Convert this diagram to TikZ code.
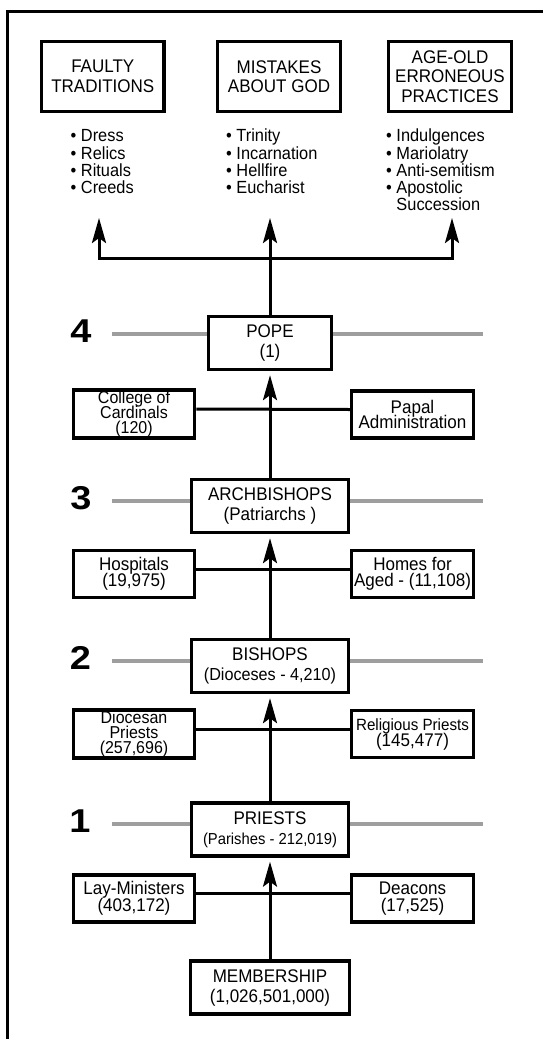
\documentclass[tikz,border=0pt]{standalone}
\usepackage{fontspec}
\setmainfont{Liberation Sans}[FakeStretch=0.93]
\newfontfamily\numfont{Liberation Sans}[FakeStretch=1.15]
\usetikzlibrary{arrows.meta}
\definecolor{levelgray}{RGB}{158,158,158}
\newcommand{\narrow}[2]{{\fontsize{#1}{15}\selectfont #2}}
\tikzset{
  box/.style={draw, line width=3.3pt, fill=white, align=center, inner sep=1pt,
    font={\fontsize{18.3}{20}\selectfont\lineskiplimit=-50pt}},
  topbox/.style={box, minimum width=122.5pt, minimum height=69.5pt,
    font={\fontsize{18.3}{19.5}\selectfont\lineskiplimit=-50pt}},
  mainbox/.style={box, minimum height=53pt},
  sidebox/.style={box, minimum width=121.5pt, minimum height=47pt,
    font={\fontsize{18.3}{16}\selectfont\lineskiplimit=-50pt}},
  tight/.style={font={\fontsize{18.3}{#1}\selectfont\lineskiplimit=-50pt}},
  tightthree/.style={font={\fontsize{17.2}{15}\selectfont\lineskiplimit=-50pt}},
  conn/.style={line width=3pt},
  tipup/.tip={Stealth[length=25pt, width=14pt, inset=5pt]},
  up/.style={conn, -tipup, shorten >=4pt},
  levelline/.style={line width=4pt, draw=levelgray},
  num/.style={font=\numfont\fontsize{33}{33}\bfseries\selectfont, inner sep=0pt},
  bul/.style={font=\fontsize{17.6}{17.3}\selectfont, anchor=base west, inner sep=0pt},
}
\begin{document}
\begin{tikzpicture}[x=1pt,y=1pt]
\useasboundingbox (0,0) rectangle (542,-1039);
% frame
\draw[line width=2.8pt] (7.6,-1045) -- (7.6,-11.7) -- (550,-11.7);

% level lines
\foreach \yy in {334,501,661,824} {\draw[levelline] (112,-\yy) -- (483,-\yy);}
\node[num] (n4) at (81,-331) {4};
\node[num] (n3) at (81,-498.5) {3};
\node[num] (n2) at (80.5,-658) {2};
\node[num] (n1) at (80,-821) {1};

% top boxes
\node[topbox] (faulty) at (102.8,-76.5) {FAULTY\\TRADITIONS};
\node[topbox] (mistakes) at (279,-76.5) {MISTAKES\\ABOUT GOD};
\node[topbox] (ageold) at (450,-76.5) {AGE-OLD\\ERRONEOUS\\PRACTICES};

% bullet lists
\node[bul] (f1) at (70.5,-141.7) {\textbullet{} Dress};
\node[bul] (f2) at (70.5,-159) {\textbullet{} Relics};
\node[bul] (f3) at (70.5,-176.3) {\textbullet{} Rituals};
\node[bul] (f4) at (70.5,-193.6) {\textbullet{} Creeds};
\node[bul] (m1) at (226,-141.7) {\textbullet{} Trinity};
\node[bul] (m2) at (226,-159) {\textbullet{} Incarnation};
\node[bul] (m3) at (226,-176.3) {\textbullet{} Hellfire};
\node[bul] (m4) at (226,-193.6) {\textbullet{} Eucharist};
\node[bul] (a1) at (386,-141.7) {\textbullet{} Indulgences};
\node[bul] (a2) at (386,-159) {\textbullet{} Mariolatry};
\node[bul] (a3) at (386,-176.3) {\textbullet{} Anti-semitism};
\node[bul] (a4) at (386,-193.6) {\textbullet{} Apostolic};
\node[bul] (a5) at (386,-210.9) {\phantom{\textbullet{} }Succession};

% hierarchy
\node[mainbox, minimum width=122.5pt] (pope) at (270,-343) {POPE\\(1)};
\node[sidebox, tightthree] (college) at (134,-414) {College of\\Cardinals\\(120)};
\node[sidebox, tight=15] (papal) at (412.5,-414.5) {Papal\\Administration};
\node[mainbox, minimum width=157.5pt] (arch) at (270,-506) {ARCHBISHOPS\\(Patriarchs )};
\node[sidebox] (hosp) at (134,-574) {Hospitals\\(19,975)};
\node[sidebox] (homes) at (412.5,-574) {Homes for\\Aged - (11,108)};
\node[mainbox, minimum width=157.5pt] (bishops) at (270,-666) {BISHOPS\\\narrow{17.4}{(Dioceses - 4,210)}};
\node[sidebox, tightthree] (dioc) at (134,-734) {Diocesan\\Priests\\(257,696)};
\node[sidebox] (relig) at (412.5,-734) {\narrow{16.3}{Religious Priests}\\(145,477)};
\node[mainbox, minimum width=157.5pt] (priests) at (270,-829.5) {PRIESTS\\\narrow{15.9}{(Parishes - 212,019)}};
\node[sidebox, tight=17] (lay) at (134,-898.5) {Lay-Ministers\\(403,172)};
\node[sidebox, tight=17] (deacons) at (412.5,-898.5) {Deacons\\(17,525)};
\node[mainbox, minimum width=158.5pt] (member) at (270,-987.5) {MEMBERSHIP\\(1,026,501,000)};

% side connectors
\draw[conn] ([yshift=5pt]college.east) -- ([yshift=5pt]papal.west);
\draw[conn] ([yshift=5pt]hosp.east) -- ([yshift=5pt]homes.west);
\draw[conn] ([yshift=5pt]dioc.east) -- ([yshift=5pt]relig.west);
\draw[conn] ([yshift=5.5pt]lay.east) -- ([yshift=5.5pt]deacons.west);

% vertical arrows
\draw[up] (member) -- (priests);
\draw[up] (priests) -- (bishops);
\draw[up] (bishops) -- (arch);
\draw[up] (arch) -- (pope);

% top distribution
\coordinate (tl) at (99,-218);
\coordinate (tm) at (270,-218);
\coordinate (tr) at (452,-218);
\coordinate (jl) at (99,-258);
\coordinate (jr) at (452,-258);
\draw[conn, tipup-tipup] (tl) -- (jl) -- (jr) -- (tr);
\draw[conn, -tipup] (pope) -- (tm);
\end{tikzpicture}
\end{document}
